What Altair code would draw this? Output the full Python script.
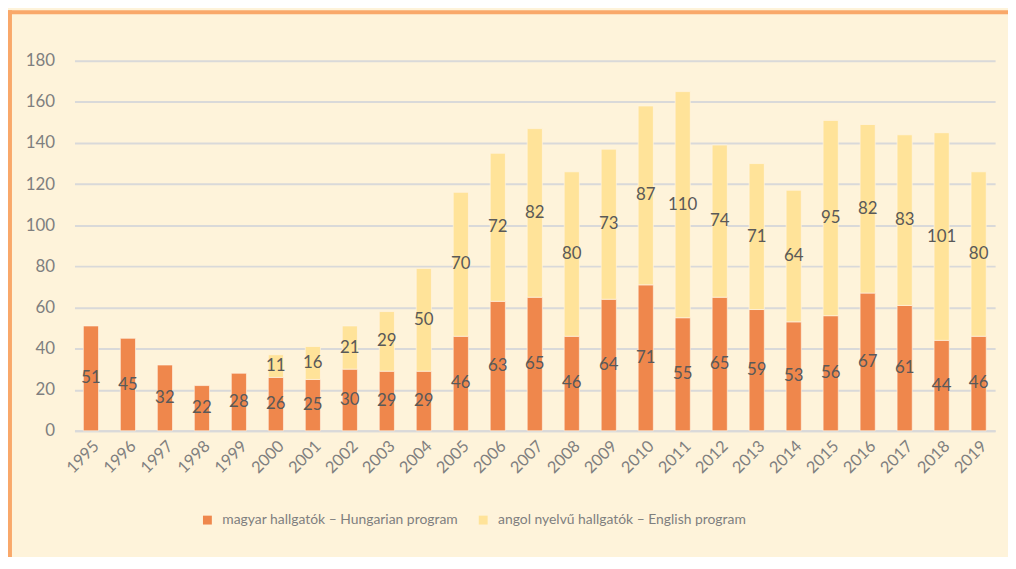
import altair as alt
import pandas as pd

years = [str(y) for y in range(1995, 2020)]
hungarian = [51, 45, 32, 22, 28, 26, 25, 30, 29, 29, 46, 63, 65, 46, 64, 71, 55, 65, 59, 53, 56, 67, 61, 44, 46]
english = [0, 0, 0, 0, 0, 11, 16, 21, 29, 50, 70, 72, 82, 80, 73, 87, 110, 74, 71, 64, 95, 82, 83, 101, 80]
series = ["magyar hallgatók – Hungarian program", "angol nyelvű hallgatók – English program"]
colors = ["#EF874C", "#FFE399"]

rows = []
for i, y in enumerate(years):
    rows.append({"year": y, "series": series[0], "order": 0, "value": hungarian[i]})
    rows.append({"year": y, "series": series[1], "order": 1, "value": english[i]})
df = pd.DataFrame(rows)

FONT = "Lato"
W, H = 928, 373

base = alt.Chart(df).transform_filter("datum.value > 0").transform_stack(
    stack="value", groupby=["year"], sort=[alt.SortField("order")], as_=["v0", "v1"]
).transform_calculate(mid="(datum.v0 + datum.v1) / 2")

xenc = alt.X("year:N", sort=years, title=None,
             scale=alt.Scale(paddingInner=0.59, paddingOuter=0.24),
             axis=alt.Axis(labelAngle=-45, labelFontSize=16.5, labelColor="#7F7F7F",
                           labelFont=FONT, ticks=False, domain=True, domainColor="#D9D9D9",
                           domainWidth=2, labelPadding=7, grid=False))

bars = base.mark_bar(stroke="#FFF6E6", strokeWidth=0.8, strokeOpacity=0.8).encode(
    x=xenc,
    y=alt.Y("v0:Q", title=None,
            scale=alt.Scale(domain=[0, 180], nice=False),
            axis=alt.Axis(values=list(range(0, 181, 20)), labelFontSize=17, labelColor="#7F7F7F",
                          labelFont=FONT, ticks=False, domain=False, labelPadding=20,
                          gridColor="#D9D9D9", gridWidth=2)),
    y2="v1:Q",
    color=alt.Color("series:N", scale=alt.Scale(domain=series, range=colors), title=None,
                    legend=alt.Legend(orient="none", legendX=127, legendY=456, direction="horizontal",
                                      labelFontSize=14, labelColor="#7F7F7F", labelFont=FONT,
                                      symbolType="square", symbolSize=80, symbolStrokeWidth=0,
                                      columnPadding=18, labelOffset=8, labelLimit=400)),
)

labels = base.mark_text(fontSize=17, color="#595959", font=FONT).encode(
    x=alt.X("year:N", sort=years),
    y=alt.Y("mid:Q"),
    text=alt.Text("value:Q"),
)

frame_left = alt.Chart(pd.DataFrame({"k": [0]})).mark_rule(color="#F9A86A", strokeWidth=4).encode(
    x=alt.value(-65), y=alt.value(-51), y2=alt.value(510))
frame_top = alt.Chart(pd.DataFrame({"k": [0]})).mark_rule(color="#F9A86A", strokeWidth=4).encode(
    x=alt.value(-67), x2=alt.value(945), y=alt.value(-49))

chart = alt.layer(bars, labels, frame_left, frame_top).properties(
    width=W, height=H, autosize="none",
    padding={"left": 67, "top": 51, "right": 13, "bottom": 125},
    background="#FEF3DA",
).configure_view(stroke=None).configure_axis(labelFont=FONT)

chart.save("out.html", embed_options={"renderer": "svg", "actions": False})
